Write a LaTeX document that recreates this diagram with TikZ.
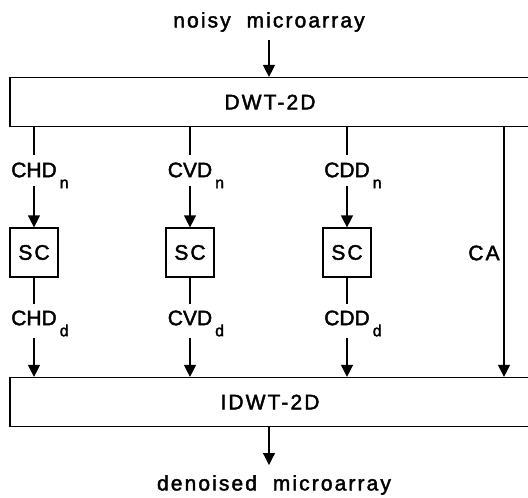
\documentclass[tikz,border=0pt]{standalone}
\usepackage{fontspec}
\setmainfont[FakeBold=2]{Liberation Sans}
\newfontfamily\widefont[LetterSpace=10, FakeBold=2]{Liberation Sans}
\usetikzlibrary{arrows.meta, positioning}

% subscript that hangs to the right of the label without widening it
\newcommand{\subidx}[1]{\makebox[0pt][l]{\hspace{3pt}\raisebox{-11pt}[0pt][0pt]{\fontsize{16}{16}\selectfont #1}}}

\tikzset{
  txt/.style={inner sep=0pt, font=\fontsize{21}{25}\selectfont},
  wide/.style={inner sep=0pt, font=\fontsize{21}{25}\widefont},
  bigbox/.style={draw, line width=1.2pt, minimum width=520pt, minimum height=49pt,
    inner sep=0pt, font=\fontsize{21}{25}\widefont},
  scbox/.style={draw, line width=1.2pt, minimum width=48pt, minimum height=49pt,
    inner sep=0pt, font=\fontsize{21}{25}\widefont},
  wire/.style={line width=1.2pt},
  flow/.style={line width=1.2pt, -{Triangle[width=12pt,length=12pt]}}
}

\begin{document}
\begin{tikzpicture}[x=1pt, y=-1pt]
  \useasboundingbox (0,0) rectangle (528,498);

  % input and forward transform
  \node[wide] (noisy) at (269,22) {noisy\ \ microarray};
  \node[bigbox] (dwt) at (270,102) {DWT-2D};
  \draw[flow, shorten <=8pt] (noisy.south) -- (noisy.south |- dwt.north);

  % inverse transform and output
  \node[bigbox] (idwt) at (270,402) {IDWT-2D};
  \node[wide] (denoised) at (274,485) {denoised\ \ microarray};
  \draw[flow, shorten >=10pt] (idwt.south -| noisy.south) -- (noisy.south |- denoised.north);

  % detail subbands through the SC blocks
  \foreach \x/\nm/\lab in {34/hd/CHD, 190/vd/CVD, 347/dd/CDD} {
    \node[txt] (\nm n) at (\x,170) {\lab\subidx{n}};
    \node[scbox] (\nm sc) at (\x,252.5) {SC};
    \node[txt] (\nm d) at (\x,318) {\lab\subidx{d}};
    \draw[wire, shorten >=7pt] (\nm n.north |- dwt.south) -- (\nm n.north);
    \draw[flow, shorten <=8pt] (\nm n.south) -- (\nm sc.north);
    \draw[wire, shorten >=6pt] (\nm sc.south) -- (\nm d.north);
    \draw[flow, shorten <=12pt] (\nm d.south) -- (\nm d.south |- idwt.north);
  }

  % approximation passes straight through
  \node[wide] (ca) at (484,253) {CA};
  \coordinate (caX) at (504,0);
  \draw[flow] (dwt.south -| caX) -- (idwt.north -| caX);
\end{tikzpicture}
\end{document}
